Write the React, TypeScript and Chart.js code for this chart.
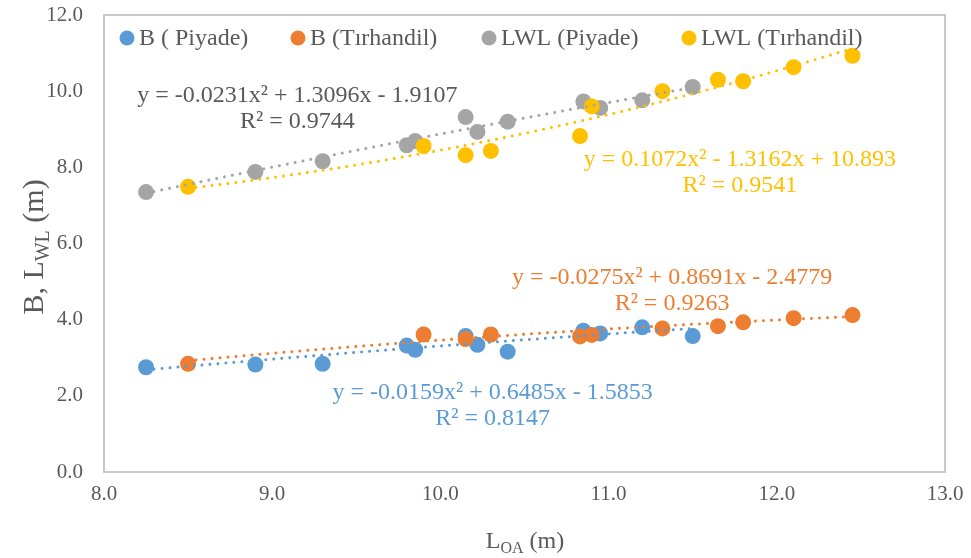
import React, { useEffect, useRef } from "react";
import { Chart, registerables } from "chart.js";

Chart.register(...registerables);

// ---- data ----
const xPiyade = [8.25, 8.9, 9.3, 9.8, 9.85, 10.15, 10.22, 10.4, 10.85, 10.95, 11.2, 11.5];
const bPiyade = [2.75, 2.82, 2.84, 3.32, 3.21, 3.57, 3.34, 3.16, 3.71, 3.64, 3.8, 3.57];
const lwlPiyade = [7.35, 7.88, 8.16, 8.58, 8.69, 9.32, 8.93, 9.2, 9.73, 9.56, 9.76, 10.11];

const xTirhandil = [8.5, 9.9, 10.15, 10.3, 10.83, 10.9, 11.32, 11.65, 11.8, 12.1, 12.45];
const bTirhandil = [2.84, 3.61, 3.49, 3.61, 3.56, 3.6, 3.77, 3.83, 3.93, 4.04, 4.12];
const lwlTirhandil = [7.49, 8.56, 8.32, 8.43, 8.82, 9.6, 10.0, 10.3, 10.26, 10.63, 10.93];

const seriesLabels = ["B ( Piyade)", "B (Tırhandil)", "LWL (Piyade)", "LWL (Tırhandil)"];
const seriesColors = ["#5B9BD5", "#ED7D31", "#A5A5A5", "#FFC000"];

// polynomial trendline coefficients (a x^2 + b x + c), as printed on the chart
const coefBPiyade = [-0.0159, 0.6485, -1.5853];
const coefBTirhandil = [-0.0275, 0.8691, -2.4779];
const coefLwlPiyade = [-0.0231, 1.3096, -1.9107];
const coefLwlTirhandil = [0.1072, -1.3162, 10.893];

const eqTexts = [
  ["y = -0.0159x² + 0.6485x - 1.5853", "R² = 0.8147"],
  ["y = -0.0275x² + 0.8691x - 2.4779", "R² = 0.9263"],
  ["y = -0.0231x² + 1.3096x - 1.9107", "R² = 0.9744"],
  ["y = 0.1072x² - 1.3162x + 10.893", "R² = 0.9541"],
];

const xTicks = [8, 9, 10, 11, 12, 13];
const yTicks = [0, 2, 4, 6, 8, 10, 12];

const FONT = "'Liberation Serif', 'Times New Roman', serif";
const TEXT = "#595959";

const toPoints = (xs: number[], ys: number[]) => xs.map((x, i) => ({ x, y: ys[i] }));

export default function App() {
  const ref = useRef<HTMLCanvasElement | null>(null);

  useEffect(() => {
    const canvas = ref.current;
    if (!canvas) return;

    const trends = [
      { coef: coefBPiyade, xs: xPiyade, color: seriesColors[0], eq: eqTexts[0], at: { x: 10.31, y: 2.07 } },
      { coef: coefBTirhandil, xs: xTirhandil, color: seriesColors[1], eq: eqTexts[1], at: { x: 11.377, y: 5.09 } },
      { coef: coefLwlPiyade, xs: xPiyade, color: seriesColors[2], eq: eqTexts[2], at: { x: 9.15, y: 9.89 } },
      { coef: coefLwlTirhandil, xs: xTirhandil, color: seriesColors[3], eq: eqTexts[3], at: { x: 11.78, y: 8.19 } },
    ];

    const extras = {
      id: "extras",
      beforeDatasetsDraw(chart: any) {
        const { ctx, chartArea } = chart;
        ctx.save();
        ctx.strokeStyle = "#C9C9C9";
        ctx.lineWidth = 2;
        ctx.strokeRect(chartArea.left, chartArea.top, chartArea.right - chartArea.left, chartArea.bottom - chartArea.top);
        ctx.restore();
      },
      afterDatasetsDraw(chart: any) {
        const { ctx } = chart;
        const xs = chart.scales.x;
        const ys = chart.scales.y;
        // trendlines
        trends.forEach((t) => {
          const x0 = Math.min(...t.xs);
          const x1 = Math.max(...t.xs);
          const [a, b, c] = t.coef;
          ctx.save();
          ctx.strokeStyle = t.color;
          ctx.lineWidth = 3;
          ctx.lineCap = "round";
          ctx.setLineDash([0.01, 8]);
          ctx.beginPath();
          const n = 200;
          for (let i = 0; i <= n; i++) {
            const xv = x0 + ((x1 - x0) * i) / n;
            const yv = a * xv * xv + b * xv + c;
            const px = xs.getPixelForValue(xv);
            const py = ys.getPixelForValue(yv);
            if (i === 0) ctx.moveTo(px, py);
            else ctx.lineTo(px, py);
          }
          ctx.stroke();
          ctx.restore();
        });
        // equations
        trends.forEach((t) => {
          const cx = xs.getPixelForValue(t.at.x);
          const cy = ys.getPixelForValue(t.at.y);
          ctx.save();
          ctx.fillStyle = t.color === "#A5A5A5" ? TEXT : t.color;
          ctx.font = `24px ${FONT}`;
          ctx.textAlign = "center";
          ctx.textBaseline = "middle";
          ctx.fillText(t.eq[0], cx, cy);
          ctx.fillText(t.eq[1], cx, cy + 26);
          ctx.restore();
        });
      },
      afterDraw(chart: any) {
        const { ctx } = chart;
        // legend
        const markerX = [127, 298, 489, 689];
        ctx.save();
        ctx.font = `24px ${FONT}`;
        ctx.textBaseline = "middle";
        ctx.textAlign = "left";
        seriesLabels.forEach((label, i) => {
          ctx.fillStyle = seriesColors[i];
          ctx.beginPath();
          ctx.arc(markerX[i], 38, 7.5, 0, Math.PI * 2);
          ctx.fill();
          ctx.fillStyle = TEXT;
          ctx.fillText(label, markerX[i] + 12, 39);
        });
        ctx.restore();

        // axis titles with subscripts
        const drawSub = (parts: [string, boolean][], cx: number, cy: number, bigSize: number, smallSize: number, drop: number) => {
          const big = `${bigSize}px ${FONT}`;
          const small = `${smallSize}px ${FONT}`;
          let total = 0;
          parts.forEach(([s, sub]) => {
            ctx.font = sub ? small : big;
            total += ctx.measureText(s).width;
          });
          let x = cx - total / 2;
          ctx.textAlign = "left";
          ctx.textBaseline = "alphabetic";
          parts.forEach(([s, sub]) => {
            ctx.font = sub ? small : big;
            ctx.fillText(s, x, cy + (sub ? drop : 0));
            x += ctx.measureText(s).width;
          });
        };
        ctx.save();
        ctx.fillStyle = TEXT;
        drawSub([["L", false], ["OA", true], [" (m)", false]], 525, 548, 24, 16, 5);
        ctx.translate(43, 247);
        ctx.rotate(-Math.PI / 2);
        drawSub([["B, L", false], ["WL", true], [" (m)", false]], 0, 0, 30, 20, 6);
        ctx.restore();
      },
    };

    const chart = new Chart(canvas, {
      type: "scatter",
      data: {
        datasets: [
          { label: seriesLabels[0], data: toPoints(xPiyade, bPiyade), backgroundColor: seriesColors[0], order: 3 },
          { label: seriesLabels[1], data: toPoints(xTirhandil, bTirhandil), backgroundColor: seriesColors[1], order: 2 },
          { label: seriesLabels[2], data: toPoints(xPiyade, lwlPiyade), backgroundColor: seriesColors[2], order: 1 },
          { label: seriesLabels[3], data: toPoints(xTirhandil, lwlTirhandil), backgroundColor: seriesColors[3], order: 0 },
        ].map((d) => ({ ...d, pointRadius: 8, pointBorderWidth: 0, borderWidth: 0, pointHoverRadius: 8 })),
      },
      options: {
        animation: false,
        responsive: false,
        layout: { padding: { top: 15, right: 26, left: 0, bottom: 0 } },
        plugins: { legend: { display: false }, tooltip: { enabled: false } },
        scales: {
          x: {
            type: "linear",
            min: xTicks[0],
            max: xTicks[xTicks.length - 1],
            afterBuildTicks: (s: any) => { s.ticks = xTicks.map((v) => ({ value: v })); },
            afterFit: (s: any) => { s.height = 86; s.paddingLeft = 0; s.paddingRight = 0; },
            grid: { display: false, drawTicks: false },
            border: { display: false },
            ticks: {
              padding: 10,
              color: TEXT,
              font: { family: FONT, size: 21 },
              callback: (v: any) => Number(v).toFixed(1),
              maxRotation: 0,
            },
          },
          y: {
            type: "linear",
            min: yTicks[0],
            max: yTicks[yTicks.length - 1],
            afterBuildTicks: (s: any) => { s.ticks = yTicks.map((v) => ({ value: v })); },
            afterFit: (s: any) => { s.width = 104; s.paddingTop = 0; s.paddingBottom = 0; },
            grid: { display: false, drawTicks: false },
            border: { display: false },
            ticks: {
              padding: 21,
              color: TEXT,
              font: { family: FONT, size: 21 },
              callback: (v: any) => Number(v).toFixed(1),
            },
          },
        },
      },
      plugins: [extras],
    } as any);

    return () => chart.destroy();
  }, []);

  return (
    <div style={{ position: "fixed", left: 0, top: 0, width: 971, height: 558, background: "#fff" }}>
      <canvas ref={ref} width={971} height={558} />
    </div>
  );
}
